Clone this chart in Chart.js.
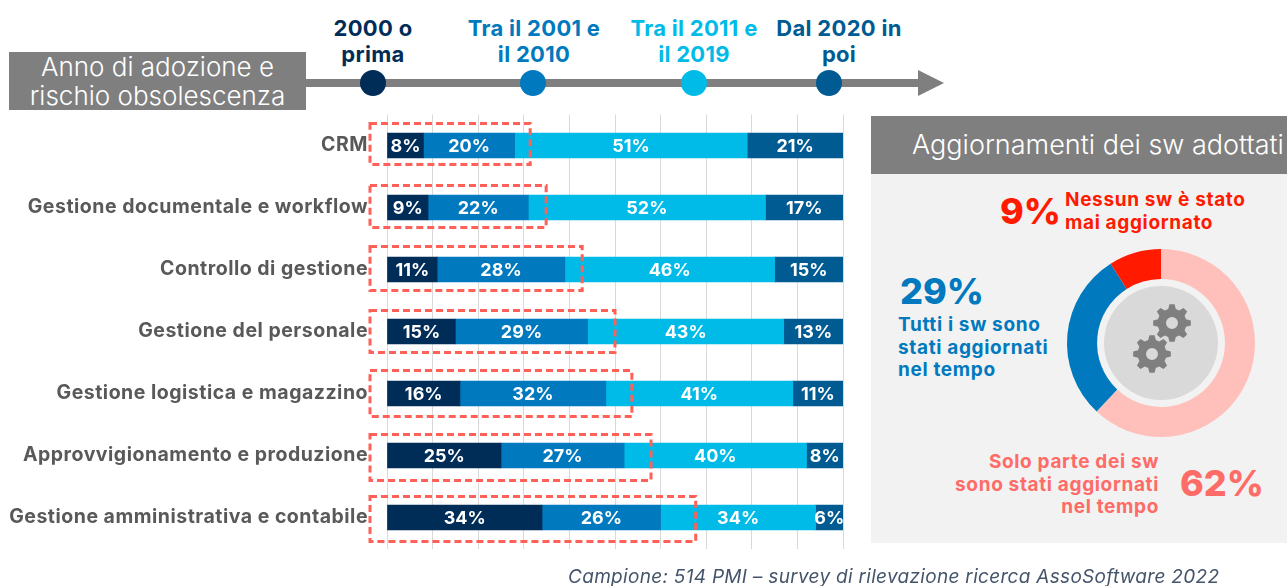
<!DOCTYPE html>
<html lang="it">
<head>
<meta charset="utf-8">
<title>Anno di adozione e rischio obsolescenza</title>
<script src="https://cdn.jsdelivr.net/npm/chart.js@4"></script>
<style>
  html, body { margin: 0; padding: 0; background: #fff; }
  body { width: 1287px; height: 586px; position: relative; overflow: hidden; font-family: Inter, sans-serif; }
  .t { position: absolute; white-space: nowrap; font-weight: 700; }
  .big { font-size: 36px; line-height: 46px; font-weight: 800; }
  .small { font-size: 19px; line-height: 22.7px; letter-spacing: 0.65px; }
  .ctr { text-align: center; transform: translateX(-50%); }
  .box { position: absolute; background: #7f7f7f; color: #fff; font-weight: 300; }
  canvas { position: absolute; }
</style>
</head>
<body>

<div class="box" style="left:9px;top:52px;width:297px;height:58px;font-size:26px;line-height:29px;text-align:center;">Anno di adozione e<br>rischio obsolescenza</div>
<div style="position:absolute;left:306px;top:79px;width:614px;height:8px;background:#7f7f7f;"></div>
<div style="position:absolute;left:918px;top:70px;width:0;height:0;border-left:26px solid #7f7f7f;border-top:13px solid transparent;border-bottom:13px solid transparent;"></div>

<div id="timeline"></div>

<div style="position:absolute;left:871px;top:116px;width:416px;height:427px;background:#f2f2f2;"></div>
<div class="box" style="left:871px;top:116px;width:416px;height:58px;font-size:27px;line-height:58px;text-indent:41px;white-space:nowrap;overflow:hidden;">Aggiornamenti dei sw adottati</div>

<canvas id="bars" width="860" height="586" style="left:0;top:0;width:860px;height:586px;"></canvas>
<canvas id="donut" width="200" height="200" style="left:1061px;top:243px;width:200px;height:200px;"></canvas>

<div class="t big" style="left:1000px;top:188px;color:#ff1a00;">9%</div>
<div class="t small" style="left:1065px;top:189px;color:#ff1a00;">Nessun sw è stato<br>mai aggiornato</div>
<div class="t big" style="left:900px;top:268px;color:#0079be;">29%</div>
<div class="t small" style="left:898px;top:314px;color:#0079be;">Tutti i sw sono<br>stati aggiornati<br>nel tempo</div>
<div class="t small" style="right:128px;top:451px;color:#ff6b66;text-align:right;">Solo parte dei sw<br>sono stati aggiornati<br>nel tempo</div>
<div class="t big" style="left:1180px;top:460px;color:#ff6b66;">62%</div>

<div class="t" style="left:568px;top:566px;font-size:19px;line-height:22px;letter-spacing:0.3px;font-weight:400;font-style:italic;color:#44546a;">Campione: 514 PMI – survey di rilevazione ricerca AssoSoftware 2022</div>

<script>
const categories = [
  "CRM",
  "Gestione documentale e workflow",
  "Controllo di gestione",
  "Gestione del personale",
  "Gestione logistica e magazzino",
  "Approvvigionamento e produzione",
  "Gestione amministrativa e contabile",
];
const prima2000 = [8, 9, 11, 15, 16, 25, 34];
const tra2001e2010 = [20, 22, 28, 29, 32, 27, 26];
const tra2011e2019 = [51, 52, 46, 43, 41, 40, 34];
const dal2020 = [21, 17, 15, 13, 11, 8, 6];
// where the red dashed boxes end, in axis units
const obsolescenza = [31.4, 34.9, 42.8, 50, 53.7, 57.9, 67.7];

const periodi = ["2000 o<br>prima", "Tra il 2001 e<br>il 2010", "Tra il 2011 e<br>il 2019", "Dal 2020 in<br>poi"];
const coloriPeriodi = ["#002d57", "#0079be", "#00bbe8", "#005b92"];

const aggiornamentiLabels = ["Solo parte", "Tutti", "Nessuno"];
const aggiornamenti = [62, 29, 9];
const coloriAggiornamenti = ["#ffbfbb", "#0079be", "#ff1a00"];

// timeline dots and captions
const dotX = [373, 533, 694, 829];
const labelX = [373, 534, 694, 839];
const timeline = document.getElementById("timeline");
periodi.forEach((p, i) => {
  timeline.insertAdjacentHTML("beforeend",
    `<div style="position:absolute;left:${dotX[i] - 13}px;top:70px;width:26px;height:26px;border-radius:50%;background:${coloriPeriodi[i]};"></div>` +
    `<div class="t ctr" style="left:${labelX[i]}px;top:16px;font-size:22px;letter-spacing:0.3px;line-height:25.5px;color:${coloriPeriodi[i]};">${p}</div>`);
});

const tickSpacing = {
  id: "tickSpacing",
  beforeDraw(chart) { chart.ctx.letterSpacing = "0.5px"; },
};

const barLabels = {
  id: "barLabels",
  afterDatasetsDraw(chart) {
    const { ctx } = chart;
    ctx.save();
    ctx.letterSpacing = "0px";
    ctx.fillStyle = "#fff";
    ctx.font = "700 18px Inter";
    ctx.textAlign = "center";
    ctx.textBaseline = "middle";
    chart.data.datasets.forEach((ds, d) => {
      chart.getDatasetMeta(d).data.forEach((bar, i) => {
        ctx.fillText(ds.data[i] + "%", (bar.x + bar.base) / 2, bar.y + 1);
      });
    });
    ctx.restore();
  },
};

// top and bottom of each dashed box, measured from the row centre
const boxUp = [22, 22, 23, 21, 23, 21, 21];
const boxDown = [19, 20, 21, 21, 23, 25, 24];

const dashedBoxes = {
  id: "dashedBoxes",
  afterDraw(chart) {
    const { ctx, scales } = chart;
    ctx.save();
    ctx.strokeStyle = "#ff6058";
    ctx.lineWidth = 3;
    ctx.setLineDash([7, 4]);
    obsolescenza.forEach((v, i) => {
      const y = scales.y.getPixelForValue(i);
      const right = scales.x.getPixelForValue(v);
      ctx.strokeRect(370, y - boxUp[i], right - 370, boxUp[i] + boxDown[i]);
    });
    ctx.restore();
  },
};

new Chart(document.getElementById("bars"), {
  type: "bar",
  data: {
    labels: categories,
    datasets: [
      { label: "2000 o prima", data: prima2000, backgroundColor: coloriPeriodi[0] },
      { label: "Tra il 2001 e il 2010", data: tra2001e2010, backgroundColor: coloriPeriodi[1] },
      { label: "Tra il 2011 e il 2019", data: tra2011e2019, backgroundColor: coloriPeriodi[2] },
      { label: "Dal 2020 in poi", data: dal2020, backgroundColor: coloriPeriodi[3] },
    ],
  },
  options: {
    indexAxis: "y",
    responsive: false,
    animation: false,
    layout: { padding: { top: 114.5, bottom: 37.5, right: 17 } },
    datasets: { bar: { barThickness: 25 } },
    plugins: { legend: { display: false }, tooltip: { enabled: false } },
    scales: {
      x: {
        stacked: true,
        min: 0,
        max: 100,
        ticks: { display: false, stepSize: 10 },
        grid: { color: "#d9d9d9", drawTicks: false },
        border: { display: false },
        afterFit(s) { s.height = 0; },
      },
      y: {
        stacked: true,
        ticks: { color: "#595959", font: { family: "Inter", weight: "700", size: 19.5 }, padding: 19 },
        grid: { display: false, drawTicks: false },
        border: { display: false },
        afterFit(s) { s.width = 387; },
      },
    },
  },
  plugins: [tickSpacing, barLabels, dashedBoxes],
});

// one gear, teeth built around the centre
function gear(ctx, cx, cy, outer, root, hole, teeth, rot) {
  ctx.beginPath();
  const step = (Math.PI * 2) / teeth;
  for (let i = 0; i < teeth; i++) {
    const a = rot + i * step;
    ctx.lineTo(cx + root * Math.cos(a - step * 0.34), cy + root * Math.sin(a - step * 0.34));
    ctx.lineTo(cx + outer * Math.cos(a - step * 0.17), cy + outer * Math.sin(a - step * 0.17));
    ctx.lineTo(cx + outer * Math.cos(a + step * 0.17), cy + outer * Math.sin(a + step * 0.17));
    ctx.lineTo(cx + root * Math.cos(a + step * 0.34), cy + root * Math.sin(a + step * 0.34));
  }
  ctx.closePath();
  ctx.moveTo(cx + hole, cy);
  ctx.arc(cx, cy, hole, 0, Math.PI * 2, true);
  ctx.fill("evenodd");
}

const centerIcon = {
  id: "centerIcon",
  afterDraw(chart) {
    const { ctx } = chart;
    const arc = chart.getDatasetMeta(0).data[0];
    ctx.save();
    ctx.fillStyle = "#d9d9d9";
    ctx.beginPath();
    ctx.arc(arc.x, arc.y, 57, 0, Math.PI * 2);
    ctx.fill();
    ctx.fillStyle = "#7f7f7f";
    gear(ctx, arc.x + 11, arc.y - 20, 19, 14.5, 6, 8, 0);
    gear(ctx, arc.x - 9, arc.y + 11, 19, 14.5, 6, 8, 0);
    ctx.restore();
  },
};

new Chart(document.getElementById("donut"), {
  type: "doughnut",
  data: {
    labels: aggiornamentiLabels,
    datasets: [{ data: aggiornamenti, backgroundColor: coloriAggiornamenti, borderWidth: 0 }],
  },
  options: {
    responsive: false,
    animation: false,
    cutout: "68%",
    layout: { padding: 6 },
    plugins: { legend: { display: false }, tooltip: { enabled: false } },
  },
  plugins: [centerIcon],
});
</script>
</body>
</html>
